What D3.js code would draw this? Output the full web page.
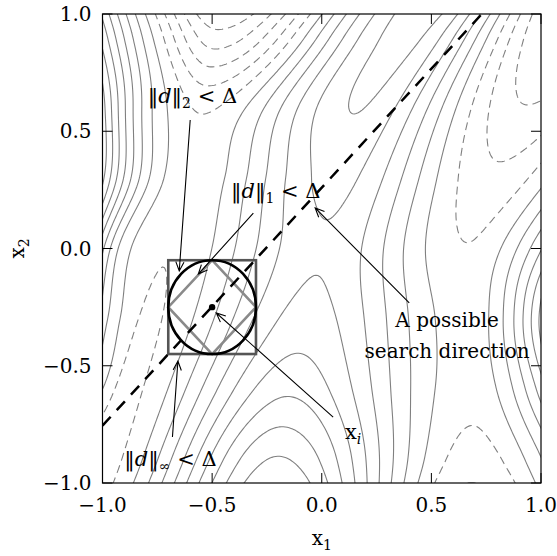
<!DOCTYPE html>
<html>
<head>
<meta charset="utf-8">
<script src="https://cdn.jsdelivr.net/npm/d3@7"></script>
<style>
  body { margin: 0; background: #fff; }
  svg { display: block; font-family: "DejaVu Serif", serif; }
</style>
</head>
<body>
<div id="chart"></div>
<script>
// objective surface: knot lines across the plot
// (x1 position and contour level), sampled along x2
const sampleY = [-1.2, -0.9, -0.6, -0.3, 0, 0.3, 0.6, 0.9, 1.2];
const leftWallX = [-1.5, -1.35, -1.25, -1.15, -1.1, -1.1, -1.1, -1.1, -1.1];
const leftWallZ = [3, 2.5, 4, 6, 7.3, 11, 11, 8.5, 6];
const leftShoulderX = [-1.3, -1.15, -1.0, -0.92, -0.87, -0.72, -0.705, -0.77, -0.87];
const leftShoulderZ = [-0.8, -1.0, 0, 0, 0, 0, 0, 0, 0];
const leftValleyX = [-1.15, -1.02, -0.91, -0.8, -0.7, -0.61, -0.54, -0.48, -0.45];
const leftValleyZ = [-1.6, -1.45, -1.3, -1.15, -0.95, -0.8, -1.15, -4.6, -8];
const midRidgeX = [-0.2, -0.2, -0.15, -0.07, 0.0, 0.06, 0.16, 0.37, 0.6];
const midRidgeZ = [10, 8.1, 5.8, 4.45, 3.9, 4.35, 5.05, 5.4, 5.8];
const rightValleyX = [0.66, 0.69, 0.68, 0.67, 0.66, 0.78, 0.93, 1.08, 1.2];
const rightValleyZ = [-3, -1.5, -0.65, -0.55, -0.95, -1.75, -2.95, -4.2, -5];
const rightRidgeX = [1.25, 1.2, 1.15, 1.12, 1.15, 1.3, 1.5, 1.7, 1.9];
const rightRidgeZ = [3, 4, 7, 9, 6, 4, 3, 2, 2];

const levels = [-9, -8, -7, -6, -5, -4, -3, -2, -1, 0, 1, 2, 3, 4, 5, 6, 7, 8, 9, 10, 11, 12];

const xTicks = [-1, -0.5, 0, 0.5, 1];
const yTicks = [-1, -0.5, 0, 0.5, 1];

// trust region around the current iterate
const iterate = [-0.5, -0.25];
const delta = 0.2;
const searchLine = [[-1, -0.755], [0.73, 1.0]];

const annotations = [
  { lines: [[["‖", ""], ["d", "i"], ["‖", ""], ["2", "sub"], [" < Δ", ""]]],
    text: [-0.59, 0.62], from: [-0.6, 0.548], to: [-0.65, -0.096] },
  { lines: [[["‖", ""], ["d", "i"], ["‖", ""], ["1", "sub"], [" < Δ", ""]]],
    text: [-0.21, 0.215], from: [-0.312, 0.151], to: [-0.563, -0.109] },
  { lines: [[["‖", ""], ["d", "i"], ["‖", ""], ["∞", "sub"], [" < Δ", ""]]],
    text: [-0.69, -0.928], from: [-0.681, -0.804], to: [-0.656, -0.48] },
  { lines: [[["x", ""], ["i", "isub"]]],
    text: [0.143, -0.812], from: [0.052, -0.719], to: [-0.481, -0.275] },
  { lines: [[["A possible", ""]], [["search direction", ""]]],
    text: [0.572, -0.335], from: [0.399, -0.232], to: [-0.03, 0.173] },
];

class TrustRegionChart {
  constructor({ el, width, height }) {
    this.el = el;
    this.width = width;
    this.height = height;
    this.init();
  }

  init() {
    this.margin = { top: 14, right: 16, bottom: 73, left: 102.5 };
    this.gridSize = 241;
    this.gridExtent = [-1.05, 1.05];

    this.x = d3.scaleLinear().domain([-1, 1])
      .range([this.margin.left, this.width - this.margin.right]);
    this.y = d3.scaleLinear().domain([-1, 1])
      .range([this.height - this.margin.bottom, this.margin.top]);

    this.svg = d3.select(this.el).append("svg")
      .attr("width", this.width)
      .attr("height", this.height);

    this.svg.append("clipPath").attr("id", "plot-clip")
      .append("rect")
      .attr("x", this.x(-1)).attr("y", this.y(1))
      .attr("width", this.x(1) - this.x(-1))
      .attr("height", this.y(-1) - this.y(1));

    this.gContours = this.svg.append("g").attr("clip-path", "url(#plot-clip)");
    this.gRegion = this.svg.append("g").attr("clip-path", "url(#plot-clip)");
    this.gAnno = this.svg.append("g");
    this.gAxes = this.svg.append("g");

    this.wrangle();
    this.render();
  }

  // catmull-rom along x2 through the sampled knot values
  along(arr, py) {
    const h = sampleY[1] - sampleY[0];
    const last = sampleY.length - 1;
    let i = Math.floor((py - sampleY[0]) / h);
    i = Math.max(0, Math.min(last - 1, i));
    const t = (py - sampleY[i]) / h;
    const p0 = arr[Math.max(0, i - 1)], p1 = arr[i];
    const p2 = arr[i + 1], p3 = arr[Math.min(last, i + 2)];
    return 0.5 * (2 * p1 + (p2 - p0) * t
      + (2 * p0 - 5 * p1 + 4 * p2 - p3) * t * t
      + (3 * p1 - p0 - 3 * p2 + p3) * t * t * t);
  }

  // monotone cubic across x1 through one row of knots
  tangents(xs, zs) {
    const n = xs.length;
    const h = [], d = [], m = new Array(n);
    for (let k = 0; k < n - 1; k++) {
      h[k] = xs[k + 1] - xs[k];
      d[k] = (zs[k + 1] - zs[k]) / h[k];
    }
    for (let k = 1; k < n - 1; k++) {
      m[k] = d[k - 1] * d[k] <= 0 ? 0
        : (3 * (h[k - 1] + h[k])) / ((2 * h[k] + h[k - 1]) / d[k - 1] + (h[k] + 2 * h[k - 1]) / d[k]);
    }
    m[0] = 1.5 * d[0] - 0.5 * m[1];
    m[n - 1] = 1.5 * d[n - 2] - 0.5 * m[n - 2];
    return m;
  }

  wrangle() {
    const knotsX = [leftWallX, leftShoulderX, leftValleyX, midRidgeX, rightValleyX, rightRidgeX];
    const knotsZ = [leftWallZ, leftShoulderZ, leftValleyZ, midRidgeZ, rightValleyZ, rightRidgeZ];
    const n = this.gridSize;
    const [g0, g1] = this.gridExtent;
    this.step = (g1 - g0) / (n - 1);
    const values = new Float64Array(n * n);
    for (let j = 0; j < n; j++) {
      const py = g0 + j * this.step;
      const xs = knotsX.map((a) => this.along(a, py));
      const zs = knotsZ.map((a) => this.along(a, py));
      const m = this.tangents(xs, zs);
      const last = xs.length - 1;
      for (let i = 0; i < n; i++) {
        const px = g0 + i * this.step;
        let z;
        if (px <= xs[0]) z = zs[0];
        else if (px >= xs[last]) z = zs[last];
        else {
          let k = 0;
          while (px > xs[k + 1]) k++;
          const hk = xs[k + 1] - xs[k];
          const t = (px - xs[k]) / hk;
          const t2 = t * t, t3 = t2 * t;
          z = (2 * t3 - 3 * t2 + 1) * zs[k] + (t3 - 2 * t2 + t) * hk * m[k]
            + (-2 * t3 + 3 * t2) * zs[k + 1] + (t3 - t2) * hk * m[k + 1];
        }
        values[j * n + i] = z;
      }
    }
    this.contours = d3.contours().size([n, n]).thresholds(levels)(values);
  }

  render() {
    this.renderContours();
    this.renderRegion();
    this.renderAnnotations();
    this.renderAxes();
  }

  renderContours() {
    const x = this.x, y = this.y, g0 = this.gridExtent[0], step = this.step;
    const path = d3.geoPath(d3.geoTransform({
      point(gx, gy) {
        this.stream.point(x(g0 + (gx - 0.5) * step), y(g0 + (gy - 0.5) * step));
      },
    }));
    this.gContours.selectAll("path")
      .data(this.contours)
      .join("path")
      .attr("d", path)
      .attr("fill", "none")
      .attr("stroke", "#808080")
      .attr("stroke-width", 1.1)
      .attr("stroke-dasharray", (d) => (d.value < 0 ? "8,5" : null));
  }

  renderRegion() {
    const [cx, cy] = iterate;
    const x = this.x, y = this.y;

    this.gRegion.append("rect")
      .attr("x", x(cx - delta)).attr("y", y(cy + delta))
      .attr("width", x(cx + delta) - x(cx - delta))
      .attr("height", y(cy - delta) - y(cy + delta))
      .attr("fill", "none").attr("stroke", "#555").attr("stroke-width", 2.6);

    const diamond = [[cx, cy + delta], [cx + delta, cy], [cx, cy - delta], [cx - delta, cy]];
    this.gRegion.append("path")
      .attr("d", d3.line().x((d) => x(d[0])).y((d) => y(d[1]))(diamond) + "Z")
      .attr("fill", "none").attr("stroke", "#8a8a8a").attr("stroke-width", 2.6);

    this.gRegion.append("ellipse")
      .attr("cx", x(cx)).attr("cy", y(cy))
      .attr("rx", x(cx + delta) - x(cx)).attr("ry", y(cy - delta) - y(cy))
      .attr("fill", "none").attr("stroke", "#000").attr("stroke-width", 2.6);

    this.gRegion.append("line")
      .attr("x1", x(searchLine[0][0])).attr("y1", y(searchLine[0][1]))
      .attr("x2", x(searchLine[1][0])).attr("y2", y(searchLine[1][1]))
      .attr("stroke", "#000").attr("stroke-width", 2.5)
      .attr("stroke-dasharray", "12,9");

    this.gRegion.append("circle")
      .attr("cx", x(cx)).attr("cy", y(cy)).attr("r", 3.2).attr("fill", "#000");
  }

  renderAnnotations() {
    const x = this.x, y = this.y;
    const g = this.gAnno.selectAll("g")
      .data(annotations)
      .join("g");

    g.append("path")
      .attr("d", (d) => {
        const x0 = x(d.from[0]), y0 = y(d.from[1]);
        const x1 = x(d.to[0]), y1 = y(d.to[1]);
        const ang = Math.atan2(y0 - y1, x0 - x1);
        const len = 10, spread = 0.42;
        const h1 = [x1 + len * Math.cos(ang + spread), y1 + len * Math.sin(ang + spread)];
        const h2 = [x1 + len * Math.cos(ang - spread), y1 + len * Math.sin(ang - spread)];
        return `M${x0},${y0}L${x1},${y1}M${h1}L${x1},${y1}L${h2}`;
      })
      .attr("fill", "none").attr("stroke", "#000").attr("stroke-width", 1.1);

    const text = g.append("text")
      .attr("text-anchor", "middle")
      .attr("font-size", (d) => (d.lines.length > 1 ? 20 : 21))
      .attr("fill", "#000");

    text.each(function (d) {
      const t = d3.select(this);
      d.lines.forEach((parts, li) => {
        const line = t.append("tspan")
          .attr("x", x(d.text[0]))
          .attr("y", y(d.text[1]) + li * 31);
        let shifted = false;
        parts.forEach(([str, kind]) => {
          const s = line.append("tspan").text(str);
          if (kind === "i" || kind === "isub") s.attr("font-style", "italic");
          if (kind === "sub" || kind === "isub") {
            s.attr("font-size", 14).attr("dy", 5);
            shifted = true;
          } else if (shifted) {
            s.attr("dy", -5);
            shifted = false;
          }
        });
      });
    });
  }

  renderAxes() {
    const x = this.x, y = this.y;
    const fmt = d3.format(".1f");
    const tickLen = 10;
    const x0 = x(-1), x1 = x(1), y0 = y(-1), y1 = y(1);

    this.gAxes.append("rect")
      .attr("x", x0).attr("y", y1)
      .attr("width", x1 - x0).attr("height", y0 - y1)
      .attr("fill", "none").attr("stroke", "#000").attr("stroke-width", 1.2);

    const ticks = this.gAxes.append("g").attr("stroke", "#000").attr("stroke-width", 1);
    xTicks.forEach((t) => {
      ticks.append("line").attr("x1", x(t)).attr("x2", x(t)).attr("y1", y0).attr("y2", y0 - tickLen);
      ticks.append("line").attr("x1", x(t)).attr("x2", x(t)).attr("y1", y1).attr("y2", y1 + tickLen);
    });
    yTicks.forEach((t) => {
      ticks.append("line").attr("y1", y(t)).attr("y2", y(t)).attr("x1", x0).attr("x2", x0 + tickLen);
      ticks.append("line").attr("y1", y(t)).attr("y2", y(t)).attr("x1", x1).attr("x2", x1 - tickLen);
    });

    this.gAxes.append("g")
      .selectAll("text")
      .data(xTicks)
      .join("text")
      .attr("x", (d) => x(d))
      .attr("y", y0 + 29)
      .attr("text-anchor", "middle")
      .attr("font-size", 20)
      .text(fmt);

    this.gAxes.append("g")
      .selectAll("text")
      .data(yTicks)
      .join("text")
      .attr("x", x0 - 11)
      .attr("y", (d) => y(d) + 7)
      .attr("text-anchor", "end")
      .attr("font-size", 20)
      .text(fmt);

    const xl = this.gAxes.append("text")
      .attr("x", (x0 + x1) / 2).attr("y", y0 + 62)
      .attr("text-anchor", "middle").attr("font-size", 20);
    xl.append("tspan").text("x");
    xl.append("tspan").attr("font-size", 14).attr("dy", 5).text("1");

    const yl = this.gAxes.append("text")
      .attr("transform", `translate(24,${(y0 + y1) / 2}) rotate(-90)`)
      .attr("text-anchor", "middle").attr("font-size", 20);
    yl.append("tspan").text("x");
    yl.append("tspan").attr("font-size", 14).attr("dy", 5).text("2");
  }
}

new TrustRegionChart({ el: document.getElementById("chart"), width: 557, height: 556 });
</script>
</body>
</html>
